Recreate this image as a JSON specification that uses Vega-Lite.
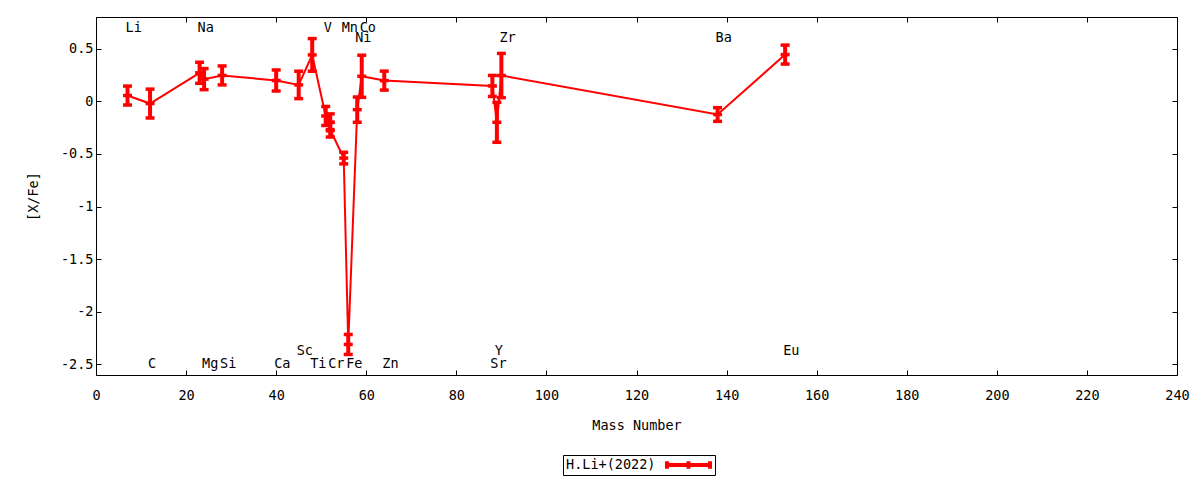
{
  "$schema": "https://vega.github.io/schema/vega-lite/v6.json",
  "width": 1081,
  "height": 358,
  "autosize": "none",
  "padding": {"left": 96, "top": 17, "right": 23, "bottom": 105},
  "background": "white",
  "config": {
    "font": "DejaVu Sans Mono",
    "view": {"stroke": "black", "strokeWidth": 1},
    "axis": {
      "labelFont": "DejaVu Sans Mono",
      "titleFont": "DejaVu Sans Mono",
      "labelFontSize": 13.5,
      "titleFontSize": 13.5,
      "titleFontWeight": "normal",
      "labelColor": "black",
      "titleColor": "black",
      "tickColor": "black",
      "tickWidth": 1,
      "grid": false,
      "domain": false
    },
    "legend": {
      "labelFont": "DejaVu Sans Mono",
      "titleFont": "DejaVu Sans Mono",
      "labelFontSize": 13.5,
      "titleFontSize": 13.5,
      "titleFontWeight": "normal",
      "titleColor": "black",
      "labelColor": "black"
    }
  },
  "data": {
    "values": [
      {"n": 1, "el": "Li", "mass": 7, "xfe": 0.054, "lo": -0.036, "hi": 0.144},
      {"n": 2, "el": "C", "mass": 12, "xfe": -0.022, "lo": -0.159, "hi": 0.115},
      {"n": 3, "el": "Na", "mass": 23, "xfe": 0.27, "lo": 0.17, "hi": 0.37},
      {"n": 4, "el": "Mg", "mass": 24, "xfe": 0.21, "lo": 0.11, "hi": 0.31},
      {"n": 5, "el": "Si", "mass": 28, "xfe": 0.245, "lo": 0.155, "hi": 0.335},
      {"n": 6, "el": "Ca", "mass": 40, "xfe": 0.197, "lo": 0.097, "hi": 0.297},
      {"n": 7, "el": "Sc", "mass": 45, "xfe": 0.155, "lo": 0.025, "hi": 0.285},
      {"n": 8, "el": "Ti", "mass": 48, "xfe": 0.44, "lo": 0.285, "hi": 0.595},
      {"n": 9, "el": "V", "mass": 51, "xfe": -0.14, "lo": -0.23, "hi": -0.05},
      {"n": 10, "el": "Cr", "mass": 52, "xfe": -0.2, "lo": -0.28, "hi": -0.12},
      {"n": 11, "el": "Cr", "mass": 52, "xfe": -0.27, "lo": -0.34, "hi": -0.2},
      {"n": 12, "el": "Mn", "mass": 55, "xfe": -0.54, "lo": -0.595, "hi": -0.485},
      {"n": 13, "el": "Fe", "mass": 56, "xfe": -2.31, "lo": -2.405, "hi": -2.215},
      {"n": 14, "el": "Ni", "mass": 58, "xfe": -0.08, "lo": -0.2, "hi": 0.04},
      {"n": 15, "el": "Co", "mass": 59, "xfe": 0.237, "lo": 0.037, "hi": 0.437},
      {"n": 16, "el": "Zn", "mass": 64, "xfe": 0.196, "lo": 0.106, "hi": 0.286},
      {"n": 17, "el": "Sr", "mass": 88, "xfe": 0.145, "lo": 0.045, "hi": 0.245},
      {"n": 18, "el": "Y", "mass": 89, "xfe": -0.2, "lo": -0.39, "hi": -0.01},
      {"n": 19, "el": "Zr", "mass": 90, "xfe": 0.244, "lo": 0.034, "hi": 0.454},
      {"n": 20, "el": "Ba", "mass": 138, "xfe": -0.126, "lo": -0.191, "hi": -0.061},
      {"n": 21, "el": "Eu", "mass": 153, "xfe": 0.443, "lo": 0.353, "hi": 0.533}
    ]
  },
  "resolve": {"axis": {"x": "independent", "y": "independent"}},
  "layer": [
    {
      "mark": {"type": "line", "color": "#ff0000", "strokeWidth": 2},
      "encoding": {
        "x": {
          "field": "mass",
          "type": "quantitative",
          "scale": {"domain": [0, 240], "nice": false, "zero": false},
          "axis": {
            "orient": "bottom",
            "title": "Mass Number",
            "values": [0, 20, 40, 60, 80, 100, 120, 140, 160, 180, 200, 220, 240],
            "tickSize": -5,
            "labelPadding": 18,
            "titlePadding": 17,
            "labelFlush": false
          }
        },
        "y": {
          "field": "xfe",
          "type": "quantitative",
          "scale": {"domain": [-2.6, 0.8], "nice": false, "zero": false},
          "axis": {
            "orient": "left",
            "title": "[X/Fe]",
            "values": [-2.5, -2, -1.5, -1, -0.5, 0, 0.5],
            "labelExpr": "'' + datum.value",
            "tickSize": -5,
            "labelPadding": 8,
            "titlePadding": 20,
            "labelFlush": false
          }
        },
        "order": {"field": "n", "type": "quantitative"},
        "stroke": {
          "datum": "H.Li+(2022)",
          "type": "nominal",
          "scale": {"range": ["#ff0000"]},
          "legend": {
            "title": "H.Li+(2022)",
            "titleOrient": "left",
            "titlePadding": 9,
            "orient": "none",
            "legendX": 467,
            "legendY": 438,
            "padding": 3,
            "strokeColor": "black",
            "clipHeight": 14,
            "symbolType": "M-1,0H1M-1,-0.18V0.18M0,-0.18V0.18M1,-0.18V0.18",
            "symbolSize": 1849,
            "symbolStrokeWidth": 4,
            "symbolStrokeColor": "#ff0000",
            "symbolFillColor": "transparent",
            "labelExpr": "''",
            "labelOffset": 0
          }
        }
      }
    },
    {
      "mark": {"type": "rule", "color": "#ff0000", "strokeWidth": 4},
      "encoding": {
        "x": {
          "field": "mass",
          "type": "quantitative",
          "axis": {
            "orient": "top",
            "title": null,
            "labels": false,
            "values": [0, 20, 40, 60, 80, 100, 120, 140, 160, 180, 200, 220, 240],
            "tickSize": -5
          }
        },
        "y": {
          "field": "lo",
          "type": "quantitative",
          "axis": {
            "orient": "right",
            "title": null,
            "labels": false,
            "values": [-2.5, -2, -1.5, -1, -0.5, 0, 0.5],
            "tickSize": -5
          }
        },
        "y2": {"field": "hi"}
      }
    },
    {
      "mark": {"type": "tick", "orient": "horizontal", "color": "#ff0000", "size": 9, "thickness": 3.5, "opacity": 1},
      "encoding": {
        "x": {"field": "mass", "type": "quantitative", "axis": null},
        "y": {"field": "lo", "type": "quantitative", "axis": null}
      }
    },
    {
      "mark": {"type": "tick", "orient": "horizontal", "color": "#ff0000", "size": 9, "thickness": 3.5, "opacity": 1},
      "encoding": {
        "x": {"field": "mass", "type": "quantitative", "axis": null},
        "y": {"field": "hi", "type": "quantitative", "axis": null}
      }
    },
    {
      "mark": {"type": "tick", "orient": "horizontal", "color": "#ff0000", "size": 9, "thickness": 3.5, "opacity": 1},
      "encoding": {
        "x": {"field": "mass", "type": "quantitative", "axis": null},
        "y": {"field": "xfe", "type": "quantitative", "axis": null}
      }
    },
    {
      "data": {
        "values": [
          {"el": "Li", "mass": 7, "ypos": 0.7},
          {"el": "Na", "mass": 23, "ypos": 0.7},
          {"el": "V", "mass": 51, "ypos": 0.7},
          {"el": "Mn", "mass": 55, "ypos": 0.7},
          {"el": "Co", "mass": 59, "ypos": 0.7},
          {"el": "Ni", "mass": 58, "ypos": 0.6},
          {"el": "Zr", "mass": 90, "ypos": 0.6},
          {"el": "Ba", "mass": 138, "ypos": 0.6},
          {"el": "C", "mass": 12, "ypos": -2.5},
          {"el": "Mg", "mass": 24, "ypos": -2.5},
          {"el": "Si", "mass": 28, "ypos": -2.5},
          {"el": "Ca", "mass": 40, "ypos": -2.5},
          {"el": "Ti", "mass": 48, "ypos": -2.5},
          {"el": "Cr", "mass": 52, "ypos": -2.5},
          {"el": "Fe", "mass": 56, "ypos": -2.5},
          {"el": "Zn", "mass": 64, "ypos": -2.5},
          {"el": "Sr", "mass": 88, "ypos": -2.5},
          {"el": "Sc", "mass": 45, "ypos": -2.37},
          {"el": "Y", "mass": 89, "ypos": -2.37},
          {"el": "Eu", "mass": 153, "ypos": -2.37}
        ]
      },
      "mark": {"type": "text", "align": "left", "baseline": "middle", "dx": -2, "fontSize": 13.5, "font": "DejaVu Sans Mono", "color": "black"},
      "encoding": {
        "x": {"field": "mass", "type": "quantitative", "axis": null},
        "y": {"field": "ypos", "type": "quantitative", "axis": null},
        "text": {"field": "el"}
      }
    }
  ]
}
